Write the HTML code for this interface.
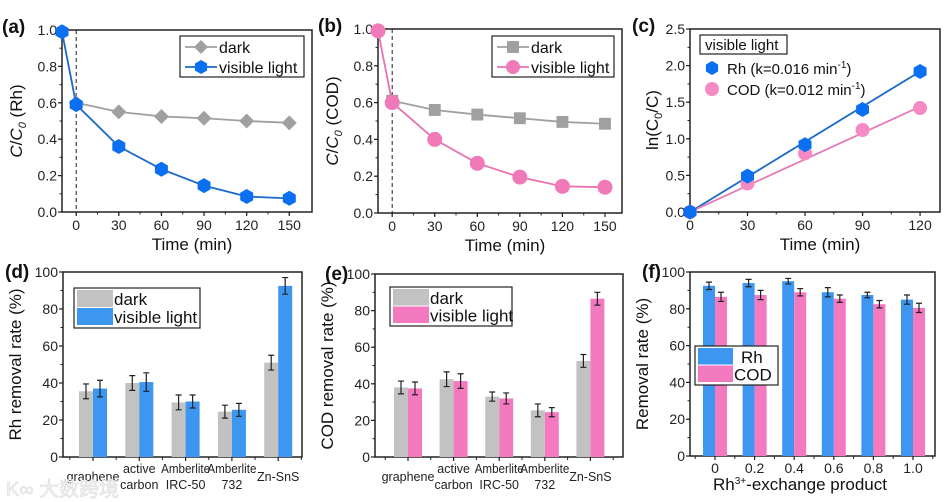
<!DOCTYPE html>
<html><head><meta charset="utf-8"><style>
html,body{margin:0;padding:0;background:#fff}
svg{display:block;font-family:"Liberation Sans","Noto Sans CJK SC",sans-serif}
</style></head><body>
<svg id="fig" width="948" height="502" viewBox="0 0 948 502" xmlns="http://www.w3.org/2000/svg"></svg>
<script>
// ---- data ----
const timeA = [-10, 0, 30, 60, 90, 120, 150];
const darkTimeA = [0, 30, 60, 90, 120, 150];
const darkA = [0.60, 0.55, 0.525, 0.515, 0.50, 0.49];
const lightA = [0.99, 0.59, 0.36, 0.235, 0.145, 0.085, 0.075];
const timeB = [-10, 0, 30, 60, 90, 120, 150];
const darkTimeB = [0, 30, 60, 90, 120, 150];
const darkB = [0.61, 0.56, 0.535, 0.515, 0.495, 0.485];
const lightB = [0.99, 0.60, 0.40, 0.27, 0.195, 0.145, 0.14];
const timeC = [0, 30, 60, 90, 120];
const rhC = [0, 0.49, 0.92, 1.40, 1.92];
const codC = [0, 0.39, 0.80, 1.12, 1.42];
const kRh = 0.016, kCod = 0.012;
const matCats = [["graphene"], ["active", "carbon"], ["Amberlite", "IRC-50"], ["Amberlite", "732"], ["Zn-SnS"]];
const darkD = [35.5, 40, 29.5, 24.5, 51];
const darkDErr = [4, 4, 4, 3.5, 4];
const lightD = [37, 40.5, 30, 25.5, 92.5];
const lightDErr = [4.5, 5, 3.5, 3.5, 4.5];
const darkE = [38, 42.5, 33, 25.5, 52.5];
const darkEErr = [3.5, 4, 2.5, 3.5, 3.5];
const lightE = [37.5, 41.5, 32, 24.5, 86.5];
const lightEErr = [3.5, 4, 3, 2.5, 3.5];
const fCats = ["0", "0.2", "0.4", "0.6", "0.8", "1.0"];
const rhF = [92.5, 94, 95, 89, 87.5, 85];
const rhFErr = [2, 2, 1.5, 2.5, 1.5, 2.5];
const codF = [86.5, 87.5, 89, 85.5, 82.5, 80.5];
const codFErr = [2.5, 2.5, 2, 2, 2, 2.5];
const ticksA = [0, 30, 60, 90, 120, 150];
const ticksY1 = [0, 0.2, 0.4, 0.6, 0.8, 1.0];
const ticksC = [0, 30, 60, 90, 120];
const ticksYC = [0, 0.5, 1.0, 1.5, 2.0, 2.5];
const ticksPct = [0, 20, 40, 60, 80, 100];

const NS = "http://www.w3.org/2000/svg";
const svg = document.getElementById('fig');
function el(tag, attrs, parent, text) {
  const e = document.createElementNS(NS, tag);
  for (const k in attrs) e.setAttribute(k, attrs[k]);
  if (text !== undefined) e.textContent = text;
  (parent || svg).appendChild(e);
  return e;
}
function scale(d0, d1, r0, r1) { return v => r0 + (v - d0) * (r1 - r0) / (d1 - d0); }

function frame(g, L, T, R, B) {
  const f = el('rect', {x: L, y: T, width: R - L, height: B - T, fill: 'none', stroke: '#222', 'stroke-width': 1.5}, g);
  
  
}
function yAxis(g, sy, L, ticks, fmt, minorStep, lo, hi) {
  ticks.forEach(t => {
    el('line', {x1: L - 4, x2: L, y1: sy(t), y2: sy(t), stroke: '#222', 'stroke-width': 1.2}, g);
    const tx = el('text', {x: L - 5, y: sy(t) + 5, 'text-anchor': 'end', 'font-size': 14, fill: '#222'}, g, fmt(t));
    
    
  });
  for (let v = lo; v <= hi + 1e-9; v += minorStep) el('line', {x1: L - 2.5, x2: L, y1: sy(v), y2: sy(v), stroke: '#222', 'stroke-width': 1}, g);
}
function xAxis(g, sx, B, ticks, minorStep, lo, hi) {
  ticks.forEach(t => {
    el('line', {x1: sx(t), x2: sx(t), y1: B, y2: B + 4, stroke: '#222', 'stroke-width': 1.2}, g);
    const tx = el('text', {x: sx(t), y: B + 18, 'text-anchor': 'middle', 'font-size': 14, fill: '#222'}, g, String(t));
    
    
  });
  for (let v = lo; v <= hi + 1e-9; v += minorStep) el('line', {x1: sx(v), x2: sx(v), y1: B, y2: B + 2.5, stroke: '#222', 'stroke-width': 1}, g);
}
function marker(g, type, x, y, r, fill) {
  let m;
  if (type === 'diamond') m = el('polygon', {points: `${x},${y-r} ${x+r},${y} ${x},${y+r} ${x-r},${y}`, fill}, g);
  else if (type === 'square') m = el('rect', {x: x - r * 0.85, y: y - r * 0.85, width: r * 1.7, height: r * 1.7, fill}, g);
  else if (type === 'hex') {
    let p = [];
    for (let i = 0; i < 6; i++) { const a = Math.PI / 6 + i * Math.PI / 3; p.push((x + r * Math.cos(a)).toFixed(1) + ',' + (y + r * Math.sin(a)).toFixed(1)); }
    m = el('polygon', {points: p.join(' '), fill}, g);
  } else m = el('circle', {cx: x, cy: y, r, fill}, g);
  
  
  return m;
}
function series(g, sx, sy, xs, ys, color, lineColor, type, r, name) {
  const pl = el('polyline', {points: xs.map((x, i) => sx(x) + ',' + sy(ys[i])).join(' '), fill: 'none', stroke: lineColor, 'stroke-width': 1.8}, g);
  
  
  xs.forEach((x, i) => marker(g, type, sx(x), sy(ys[i]), r, color));
}
function label(g, x, y, text) {
  const t = el('text', {x, y, 'font-size': 19, 'font-weight': 'bold', fill: '#111'}, g, text);
  
  
}
function ytitle(g, x, y, html, name, size) {
  const t = el('text', {x: 0, y: 0, transform: `translate(${x},${y}) rotate(-90)`, 'text-anchor': 'middle', 'font-size': size || 17, fill: '#111'}, g);
  t.innerHTML = html;
  
  
}
function xtitle(g, x, y, html, name) {
  const t = el('text', {x, y, 'text-anchor': 'middle', 'font-size': 17, fill: '#111'}, g);
  t.innerHTML = html;
  
  
}
function legendBox(g, x, y, w, h, name) {
  const r = el('rect', {x, y, width: w, height: h, fill: '#fff', stroke: '#222', 'stroke-width': 1.2}, g);
  
  
}

// ---- line panels a, b ----
function linePanel(cfg) {
  const g = el('g', {});  
  const sx = scale(-10, cfg.xmax, cfg.L, cfg.R), sy = scale(0, 1, cfg.B, cfg.T);
  frame(g, cfg.L, cfg.T, cfg.R, cfg.B);
  yAxis(g, sy, cfg.L, ticksY1, t => t.toFixed(1), 0.1, 0, 1);
  xAxis(g, sx, cfg.B, ticksA, 15, 0, 150);
  el('line', {x1: sx(0), x2: sx(0), y1: cfg.T, y2: cfg.B, stroke: '#222', 'stroke-width': 1, 'stroke-dasharray': '4,3'}, g);
  series(g, sx, sy, cfg.dT, cfg.dark, '#a0a0a0', '#a0a0a0', cfg.dm, cfg.dm === 'diamond' ? 7.5 : 7, 'dark');
  series(g, sx, sy, cfg.lT, cfg.light, cfg.lc, cfg.llc, cfg.lm, 7.5, 'visible-light');
  label(g, cfg.L - 60, cfg.T + 3, cfg.lab);
  ytitle(g, cfg.L - 40, (cfg.T + cfg.B) / 2, cfg.yt, 'y-axis-title');
  xtitle(g, (cfg.L + cfg.R) / 2 + 5, cfg.B + 38, 'Time (min)', 'x-axis-title');
  const lx = cfg.lx, ly = 36;
  legendBox(g, lx, ly, cfg.R - 8 - lx, 41, 'legend');
  [[cfg.dm, '#a0a0a0', 'dark'], [cfg.lm, cfg.lc, 'visible light']].forEach((e, i) => {
    const yy = ly + 11 + i * 20;
    el('line', {x1: lx + 5, x2: lx + 37, y1: yy, y2: yy, stroke: i ? cfg.llc : '#a0a0a0', 'stroke-width': 1.8}, g);
    marker(g, e[0], lx + 21, yy, 7, e[1]);
    const t = el('text', {x: lx + 39, y: yy + 6, 'font-size': 16, fill: '#111'}, g, e[2]);
    
    
  });
}
linePanel({name: 'panel-a', L: 62, R: 312, T: 30, B: 212, xmax: 166, dT: darkTimeA, dark: darkA, lT: timeA, light: lightA,
  dm: 'diamond', lm: 'hex', lc: '#0a6ff0', llc: '#1a6ac8', lab: '(a)', lx: 180,
  yt: '<tspan font-style="italic">C</tspan>/<tspan font-style="italic">C</tspan><tspan font-size="11" dy="4" font-style="italic">0</tspan><tspan dy="-4"> (Rh)</tspan>'});
linePanel({name: 'panel-b', L: 378, R: 622, T: 29, B: 213, xmax: 162, dT: darkTimeB, dark: darkB, lT: timeB, light: lightB,
  dm: 'square', lm: 'circle', lc: '#f07ab8', llc: '#e872b0', lab: '(b)', lx: 492,
  yt: '<tspan font-style="italic">C</tspan>/<tspan font-style="italic">C</tspan><tspan font-size="11" dy="4" font-style="italic">0</tspan><tspan dy="-4"> (COD)</tspan>'});

// ---- panel c ----
(function () {
  const g = el('g', {});  
  const L = 690, R = 940, T = 29, B = 212;
  const sx = scale(0, 130.4, L, R), sy = scale(0, 2.5, B, T);
  frame(g, L, T, R, B);
  yAxis(g, sy, L, ticksYC, t => t.toFixed(1), 0.25, 0, 2.5);
  xAxis(g, sx, B, ticksC, 15, 0, 120);
  const fit = [[kRh, '#1a6ac8'], [kCod, '#e87ab8']];
  fit.forEach(f => el('line', {x1: sx(0), y1: sy(0), x2: sx(120), y2: sy(120 * f[0]), stroke: f[1], 'stroke-width': 1.8}, g));
  timeC.forEach((t, i) => marker(g, 'circle', sx(t), sy(codC[i]), 7, '#f58ac4'));
  timeC.forEach((t, i) => marker(g, 'hex', sx(t), sy(rhC[i]), 7.5, '#0a6ff0'));
  label(g, 632, 32, '(c)');
  ytitle(g, 658, 120, 'ln(<tspan>C</tspan><tspan font-size="11" dy="4">0</tspan><tspan dy="-4">/C)</tspan>', 'y-axis-title');
  xtitle(g, 820, 250, 'Time (min)', 'x-axis-title');
  legendBox(g, 700, 35, 87, 19, 'legend-title-box');
  el('text', {x: 705, y: 50, 'font-size': 15, fill: '#111'}, g, 'visible light');
  const le = [['hex', '#0a6ff0', 'Rh (k=0.016 min', 68], ['circle', '#f58ac4', 'COD (k=0.012 min', 89]];
  le.forEach(e => {
    marker(g, e[0], 712, e[3], 7, e[1]);
    const t = el('text', {x: 727, y: e[3] + 6, 'font-size': 15, fill: '#111'}, g);
    t.innerHTML = e[2] + '<tspan font-size="10" dy="-6">-1</tspan><tspan dy="6">)</tspan>';
    
    
  });
})();

// ---- bar panels ----
function errBar(g, x, yv, e, sy) {
  const eb = el('path', {d: `M${x},${sy(yv - e)}V${sy(yv + e)}M${x - 3},${sy(yv - e)}h6M${x - 3},${sy(yv + e)}h6`, stroke: '#222', 'stroke-width': 1.2, fill: 'none'}, g);
  
  
}
function barPanel(cfg) {
  const g = el('g', {});  
  const {L, R, T, B} = cfg;
  const sy = scale(0, 100, B, T);
  const n = cfg.a.length;
  const cx = i => cfg.c0 + i * cfg.sp;
  frame(g, L, T, R, B);
  yAxis(g, sy, L, ticksPct, t => String(t), 10, 0, 100);
  for (let i = 0; i <= n; i++) {
    const xm = cx(i) - cfg.sp / 2;
    if (xm > L && xm < R) el('line', {x1: xm, x2: xm, y1: B, y2: B + 3, stroke: '#222'}, g);
  }
  for (let i = 0; i < n; i++) {
    el('line', {x1: cx(i), x2: cx(i), y1: B, y2: B + 4, stroke: '#222', 'stroke-width': 1.2}, g);
    const ba = el('rect', {x: cx(i) - cfg.bw, y: sy(cfg.a[i]), width: cfg.bw, height: B - sy(cfg.a[i]), fill: cfg.ca}, g);
    
    
    const bb = el('rect', {x: cx(i), y: sy(cfg.b[i]), width: cfg.bw, height: B - sy(cfg.b[i]), fill: cfg.cb}, g);
    
    
    errBar(g, cx(i) - cfg.bw / 2, cfg.a[i], cfg.ae[i], sy);
    errBar(g, cx(i) + cfg.bw / 2, cfg.b[i], cfg.be[i], sy);
    const lines = cfg.cats[i];
    const lines2 = Array.isArray(lines) ? lines : [lines];
    lines2.forEach((s, k) => {
      const t = el('text', {x: cx(i), y: B + cfg.ly + k * 16 + (lines2.length === 1 ? cfg.single : 0), 'text-anchor': 'middle', 'font-size': cfg.fs, fill: '#222'}, g, s);
      if (cfg.tl && s.startsWith('Amberlite')) { t.setAttribute('textLength', 49); t.setAttribute('lengthAdjust', 'spacingAndGlyphs'); }
      
      
    });
  }
  label(g, cfg.labx, T + 6, cfg.lab);
  ytitle(g, L - 42, (T + B) / 2, cfg.yt, 'y-axis-title');
  const lg = cfg.leg;
  legendBox(g, lg.x, lg.y, lg.w, lg.h, 'legend');
  [[cfg.ca, cfg.la], [cfg.cb, cfg.lb]].forEach((e, i) => {
    const hh = (lg.h - 4) / 2;
    el('rect', {x: lg.x + 3, y: lg.y + 2 + i * hh, width: lg.sw, height: hh - 1, fill: e[0]}, g);
    const t = el('text', {x: lg.x + lg.sw + lg.tx + (i === 0 ? (lg.dx0 || 0) : 0), y: lg.y + 2 + i * hh + hh / 2 + 6, 'font-size': 17, fill: '#111'}, g, e[1]);
    
    
  });
  return {g, cx};
}
barPanel({name: 'panel-d', L: 63, R: 302, T: 272, B: 457, c0: 93, sp: 46.3, bw: 14, a: darkD, ae: darkDErr, b: lightD, be: lightDErr,
  ca: '#c2c2c2', cb: '#3d96f0', na: 'dark', nb: 'visible-light', la: 'dark', lb: 'visible light', cats: matCats, fs: 12.5, tl: true, ly: 16, single: 8,
  lab: '(d)', labx: 5, yt: 'Rh removal rate (%)', leg: {x: 74, y: 288, w: 126, h: 40, sw: 36, tx: 4}});
barPanel({name: 'panel-e', L: 375, R: 623, T: 274, B: 457, c0: 408, sp: 45.6, bw: 14, a: darkE, ae: darkEErr, b: lightE, be: lightEErr,
  ca: '#c2c2c2', cb: '#f47ac0', na: 'dark', nb: 'visible-light', la: 'dark', lb: 'visible light', cats: matCats, fs: 12.5, tl: true, ly: 16, single: 8,
  lab: '(e)', labx: 325, yt: 'COD removal rate (%)', leg: {x: 390, y: 287, w: 122, h: 39, sw: 36, tx: 4}});
const fp = barPanel({name: 'panel-f', L: 690, R: 935, T: 272, B: 456, c0: 715, sp: 39.6, bw: 12, a: rhF, ae: rhFErr, b: codF, be: codFErr,
  ca: '#3d96f0', cb: '#f47ac0', na: 'rh', nb: 'cod', la: 'Rh', lb: 'COD', cats: fCats, fs: 14, ly: 17, single: 0,
  lab: '(f)', labx: 642, yt: 'Removal rate (%)', leg: {x: 695, y: 346, w: 83, h: 39, sw: 35, tx: 4, dx0: 7}});
xtitle(fp.g, 800, 490, 'Rh<tspan font-size="10" dy="-6">3+</tspan><tspan dy="6">-exchange product</tspan>', 'x-axis-title');

// watermark
const wm = el('text', {x: 6, y: 496, 'font-size': 20, fill: '#f2f2f2', stroke: '#dcdcdc', 'stroke-width': 0.6}, svg, 'K∞ 大数跨境');


</script>
</body></html>
